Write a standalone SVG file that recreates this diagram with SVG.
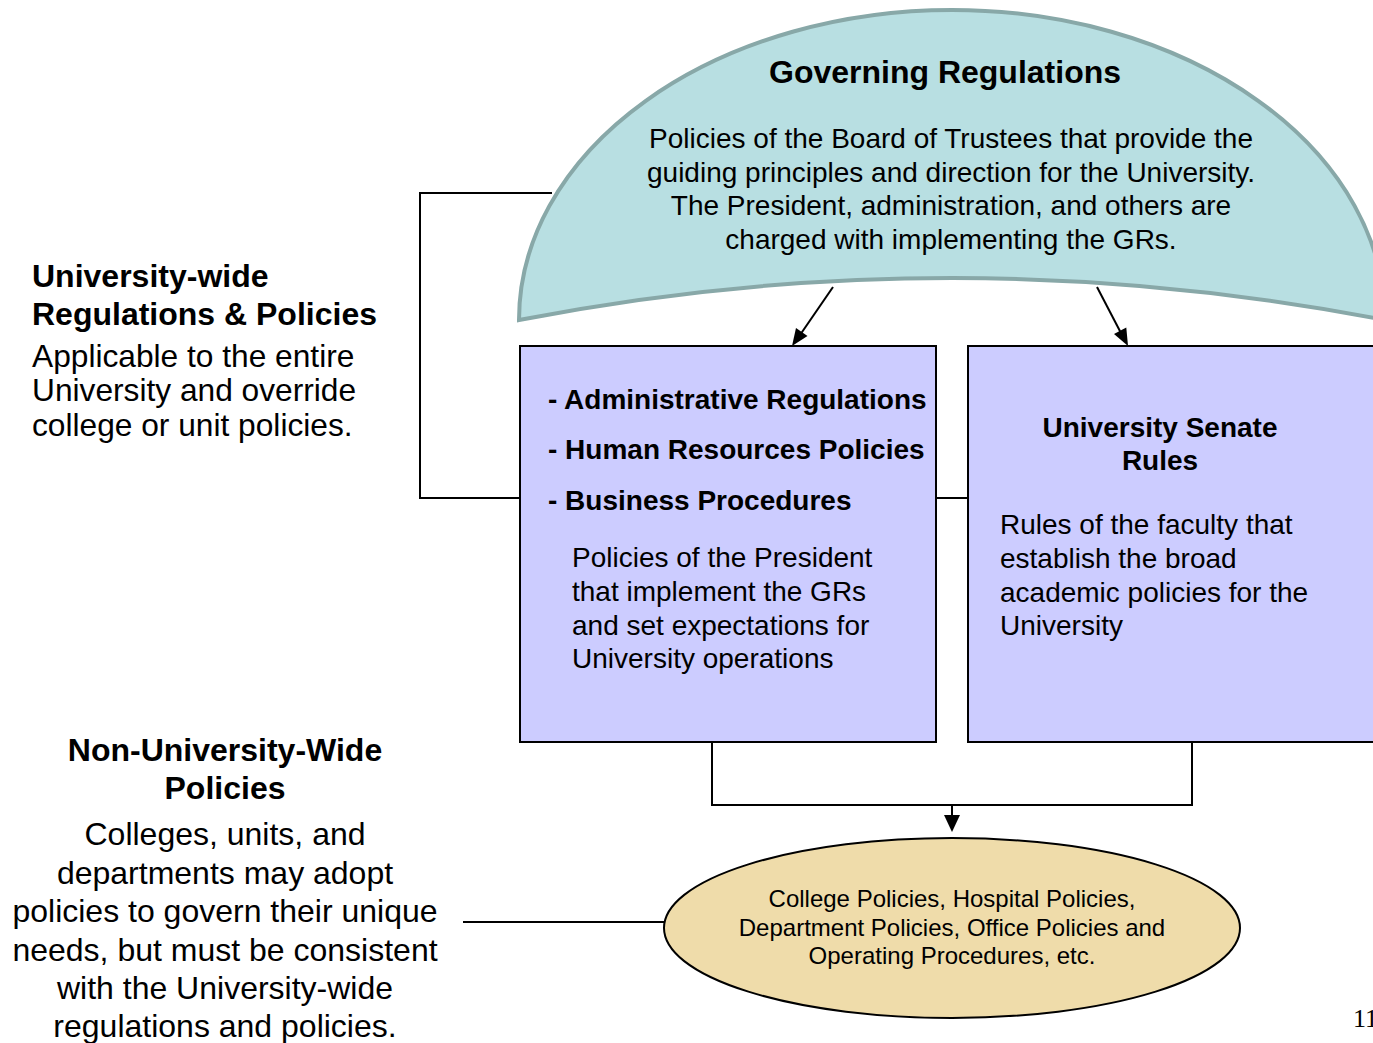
<svg xmlns="http://www.w3.org/2000/svg" width="1373" height="1043" viewBox="0 0 1373 1043">
<defs>
<style>
text{font-family:"Liberation Sans",Arial,sans-serif;fill:#000}
.b{font-weight:bold}
.c{text-anchor:middle}
.ln{fill:none;stroke:#000;stroke-width:2}
.box{fill:#ccccff;stroke:#000;stroke-width:2}
.bx{font-size:28px}
</style>
</defs>
<rect width="1373" height="1043" fill="#fff"/>
<g id="connectors">
<polyline class="ln" points="552,193 420,193 420,498 520,498"/>
<line class="ln" x1="936" y1="498" x2="968" y2="498"/>
<line class="ln" x1="833" y1="287" x2="800" y2="335"/>
<path d="M792,346 L796,328 L807.5,336 z" fill="#000"/>
<line class="ln" x1="1097" y1="287" x2="1122" y2="335"/>
<path d="M1128,346 L1114,334 L1126.3,327.6 z" fill="#000"/>
<polyline class="ln" points="712,742 712,805 1192,805 1192,742"/>
<line class="ln" x1="952" y1="805" x2="952" y2="818"/>
<path d="M944,815 L960,815 L952,832 z" fill="#000"/>
<line class="ln" x1="463" y1="922" x2="664" y2="922"/>
</g>
<g id="governing">
<path d="M519,320 A433,310 0 0 1 1385,320 Q952,236 519,320 z" fill="#b8dfe2" stroke="#88a8a8" stroke-width="4"/>
<text class="b c" x="945" y="83" font-size="32">Governing Regulations</text>
<text class="c" x="951" y="148" font-size="28">Policies of the Board of Trustees that provide the</text>
<text class="c" x="951" y="182" font-size="28">guiding principles and direction for the University.</text>
<text class="c" x="951" y="215" font-size="28">The President, administration, and others are</text>
<text class="c" x="951" y="249" font-size="28">charged with implementing the GRs.</text>
</g>
<g id="admin">
<rect class="box" x="520" y="346" width="416" height="396"/>
<text class="b bx" x="548" y="409">- Administrative Regulations</text>
<text class="b bx" x="548" y="459">- Human Resources Policies</text>
<text class="b bx" x="548" y="510">- Business Procedures</text>
<text class="bx" x="572" y="567">Policies of the President</text>
<text class="bx" x="572" y="601">that implement the GRs</text>
<text class="bx" x="572" y="635">and set expectations for</text>
<text class="bx" x="572" y="668">University operations</text>
</g>
<g id="senate">
<rect class="box" x="968" y="346" width="420" height="396"/>
<text class="b c bx" x="1160" y="437">University Senate</text>
<text class="b c bx" x="1160" y="470">Rules</text>
<text class="bx" x="1000" y="534">Rules of the faculty that</text>
<text class="bx" x="1000" y="568">establish the broad</text>
<text class="bx" x="1000" y="602">academic policies for the</text>
<text class="bx" x="1000" y="635">University</text>
</g>
<g id="college">
<ellipse cx="952" cy="928" rx="288" ry="90" fill="#efdcaa" stroke="#000" stroke-width="2"/>
<text class="c" x="952" y="907" font-size="24">College Policies, Hospital Policies,</text>
<text class="c" x="952" y="936" font-size="24">Department Policies, Office Policies and</text>
<text class="c" x="952" y="964" font-size="24">Operating Procedures, etc.</text>
</g>
<g id="univwide">
<text class="b" x="32" y="287" font-size="32">University-wide</text>
<text class="b" x="32" y="325" font-size="32">Regulations &amp; Policies</text>
<text x="32" y="367" font-size="31.7">Applicable to the entire</text>
<text x="32" y="401" font-size="31.7">University and override</text>
<text x="32" y="436" font-size="31.7">college or unit policies.</text>
</g>
<g id="nonuniv">
<text class="b c" x="225" y="761" font-size="32">Non-University-Wide</text>
<text class="b c" x="225" y="799" font-size="32">Policies</text>
<text class="c" x="225" y="845" font-size="32">Colleges, units, and</text>
<text class="c" x="225" y="884" font-size="32">departments may adopt</text>
<text class="c" x="225" y="922" font-size="32">policies to govern their unique</text>
<text class="c" x="225" y="961" font-size="32">needs, but must be consistent</text>
<text class="c" x="225" y="999" font-size="32">with the University-wide</text>
<text class="c" x="225" y="1037" font-size="32">regulations and policies.</text>
</g>
<text x="1353" y="1027" font-size="26" style="font-family:'Liberation Serif',serif">11</text>
</svg>
